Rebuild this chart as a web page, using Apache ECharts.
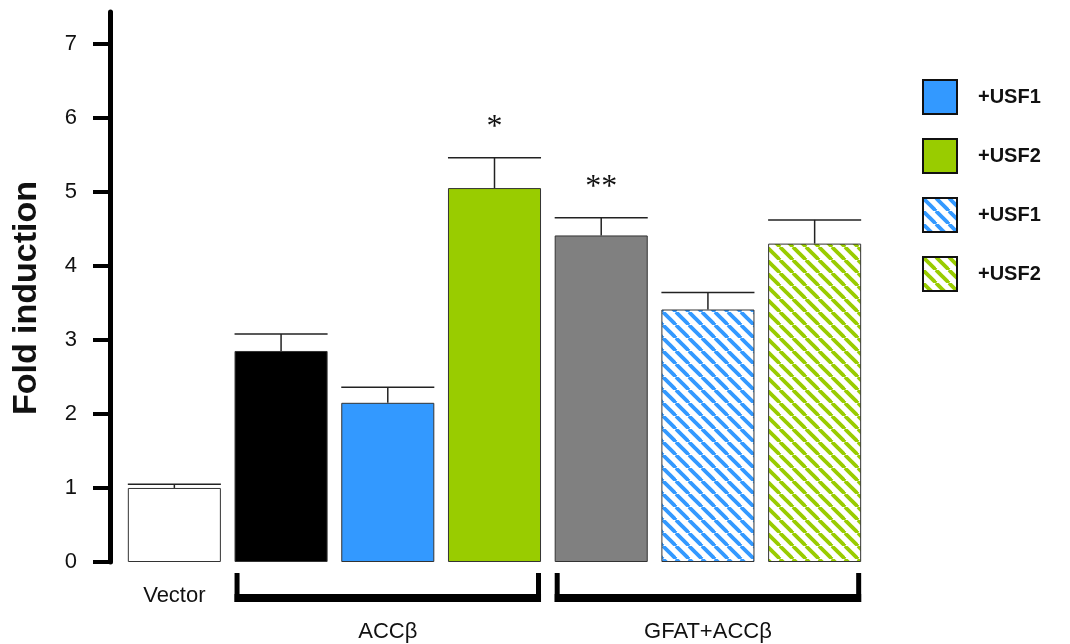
<!DOCTYPE html>
<html>
<head>
<meta charset="utf-8">
<script src="https://cdn.jsdelivr.net/npm/echarts@6/dist/echarts.min.js"></script>
<style>
  html, body { margin: 0; padding: 0; background: #fff; }
  #chart { width: 1070px; height: 644px; }
</style>
</head>
<body>
<div id="chart"></div>
<script>
// ---- data ----
const categories = ['Vector', 'ACCβ', 'ACCβ+USF1', 'ACCβ+USF2', 'GFAT+ACCβ', 'GFAT+ACCβ+USF1', 'GFAT+ACCβ+USF2'];
const foldValues = [1.00, 2.85, 2.15, 5.05, 4.41, 3.41, 4.30];
const errorTops  = [1.05, 3.08, 2.36, 5.46, 4.65, 3.64, 4.62];
const significance = ['', '', '', '*', '**', '', ''];
// which series each bar belongs to ('' = plain construct bar)
const barSeriesKey = ['', '', 'usf1', 'usf2', '', 'usf1h', 'usf2h'];
const groupLabels = ['ACCβ', 'GFAT+ACCβ'];
const groupStart = [1, 4];
const groupEnd = [3, 6];
const yTicks = [0, 1, 2, 3, 4, 5, 6, 7];

// ---- styling ----
const FONT = '"Liberation Sans", Arial, Helvetica, sans-serif';
const BLUE = '#3399ff';
const GREEN = '#99cc00';
const plainColors = ['#ffffff', '#000000', null, null, '#808080', null, null];
const BAR_GAP = 0.128;
const Y_MAX = 7.428;

function hatch(color) {
  const s = 13;
  const c = document.createElement('canvas');
  c.width = s; c.height = s;
  const g = c.getContext('2d');
  g.fillStyle = '#ffffff';
  g.fillRect(0, 0, s, s);
  g.strokeStyle = color;
  g.lineWidth = 3.8;
  for (const o of [-s, 0, s]) {
    g.beginPath();
    g.moveTo(o, 0);
    g.lineTo(o + s, s);
    g.stroke();
  }
  return { image: c, repeat: 'repeat' };
}

const seriesDefs = [
  { key: 'usf1',  name: '+USF1',  color: BLUE },
  { key: 'usf2',  name: '+USF2',  color: GREEN },
  { key: 'usf1h', name: '+USF1 ', color: hatch(BLUE) },
  { key: 'usf2h', name: '+USF2 ', color: hatch(GREEN) }
];

const borderStyle = { borderColor: '#333', borderWidth: 1 };

const series = [];
// bars without USF co-transfection
series.push({
  type: 'bar',
  name: 'construct',
  stack: 'bars',
  barCategoryGap: (BAR_GAP * 100) + '%',
  silent: true,
  data: foldValues.map((v, i) => barSeriesKey[i] === ''
    ? { value: v, itemStyle: Object.assign({ color: plainColors[i] }, borderStyle) }
    : '-')
});
// USF series (legend entries)
seriesDefs.forEach(d => {
  series.push({
    type: 'bar',
    name: d.name,
    stack: 'bars',
    silent: true,
    itemStyle: Object.assign({ color: d.color }, borderStyle),
    data: foldValues.map((v, i) => barSeriesKey[i] === d.key ? v : '-')
  });
});

// error bars + significance marks
series.push({
  type: 'custom',
  name: 'error',
  silent: true,
  z: 5,
  data: foldValues.map((v, i) => [i, v, errorTops[i], significance[i]]),
  renderItem: function (params, api) {
    const idx = api.value(0);
    const base = api.coord([idx, api.value(1)]);
    const top = api.coord([idx, api.value(2)]);
    const halfW = api.size([1, 0])[0] * (1 - BAR_GAP) / 2;
    const line = { stroke: '#222', lineWidth: 1.5 };
    const children = [
      { type: 'line', shape: { x1: base[0], y1: base[1], x2: top[0], y2: top[1] }, style: line },
      { type: 'line', shape: { x1: base[0] - halfW, y1: top[1], x2: base[0] + halfW, y2: top[1] }, style: line }
    ];
    const mark = api.value(3);
    if (mark) {
      children.push({
        type: 'text',
        style: {
          text: mark, x: base[0], y: top[1] - 30,
          align: 'center', verticalAlign: 'middle',
          font: '32px "Liberation Serif", "Times New Roman", serif',
          fill: '#111'
        }
      });
    }
    return { type: 'group', children: children };
  }
});

// group brackets under the x axis
series.push({
  type: 'custom',
  name: 'groups',
  silent: true,
  clip: false,
  data: groupLabels.map((g, i) => [groupStart[i], groupEnd[i], g]),
  renderItem: function (params, api) {
    const halfW = api.size([1, 0])[0] * (1 - BAR_GAP) / 2;
    const a = api.coord([api.value(0), 0]);
    const b = api.coord([api.value(1), 0]);
    const x1 = a[0] - halfW, x2 = b[0] + halfW, y0 = a[1];
    const fill = { fill: '#000' };
    return {
      type: 'group',
      children: [
        { type: 'rect', shape: { x: x1, y: y0 + 11, width: 5, height: 29 }, style: fill },
        { type: 'rect', shape: { x: x2 - 5, y: y0 + 11, width: 5, height: 29 }, style: fill },
        { type: 'rect', shape: { x: x1, y: y0 + 32, width: x2 - x1, height: 8 }, style: fill },
        {
          type: 'text',
          style: {
            text: api.value(2), x: (x1 + x2) / 2, y: y0 + 70,
            align: 'center', verticalAlign: 'middle',
            font: '22px ' + FONT, fill: '#111'
          }
        }
      ]
    };
  }
});

const chart = echarts.init(document.getElementById('chart'), null, { renderer: 'canvas' });
chart.setOption({
  animation: false,
  backgroundColor: '#ffffff',
  textStyle: { fontFamily: FONT },
  grid: { left: 121, right: 202, top: 12, bottom: 82, containLabel: false },
  legend: {
    orient: 'vertical',
    left: 917,
    top: 74,
    itemWidth: 34,
    itemHeight: 34,
    itemGap: 23,
    icon: 'rect',
    selectedMode: false,
    data: seriesDefs.map(d => d.name),
    formatter: n => n.trim(),
    itemStyle: { borderColor: '#111', borderWidth: 2 },
    textStyle: { fontFamily: FONT, fontSize: 20, fontWeight: 'bold', color: '#111', padding: [0, 0, 0, 16] }
  },
  xAxis: {
    type: 'category',
    data: categories,
    axisLine: { show: false },
    axisTick: { show: false },
    axisLabel: {
      interval: 0,
      margin: 23,
      fontSize: 22,
      color: '#111',
      formatter: (v, i) => (i === 0 ? v : '')
    }
  },
  yAxis: {
    type: 'value',
    min: 0,
    max: Y_MAX,
    offset: 11,
    splitLine: { show: false },
    name: 'Fold induction',
    nameLocation: 'middle',
    nameGap: 66,
    nameTextStyle: { fontSize: 34, fontWeight: 'bold', color: '#111', padding: [0, 22, 0, 0] },
    axisLine: { show: true, lineStyle: { color: '#000', width: 5 } },
    axisTick: { show: true, length: 17, lineStyle: { color: '#000', width: 4 }, customValues: yTicks },
    axisLabel: { fontSize: 22, color: '#111', margin: 33, customValues: yTicks }
  },
  series: series
});
</script>
</body>
</html>
